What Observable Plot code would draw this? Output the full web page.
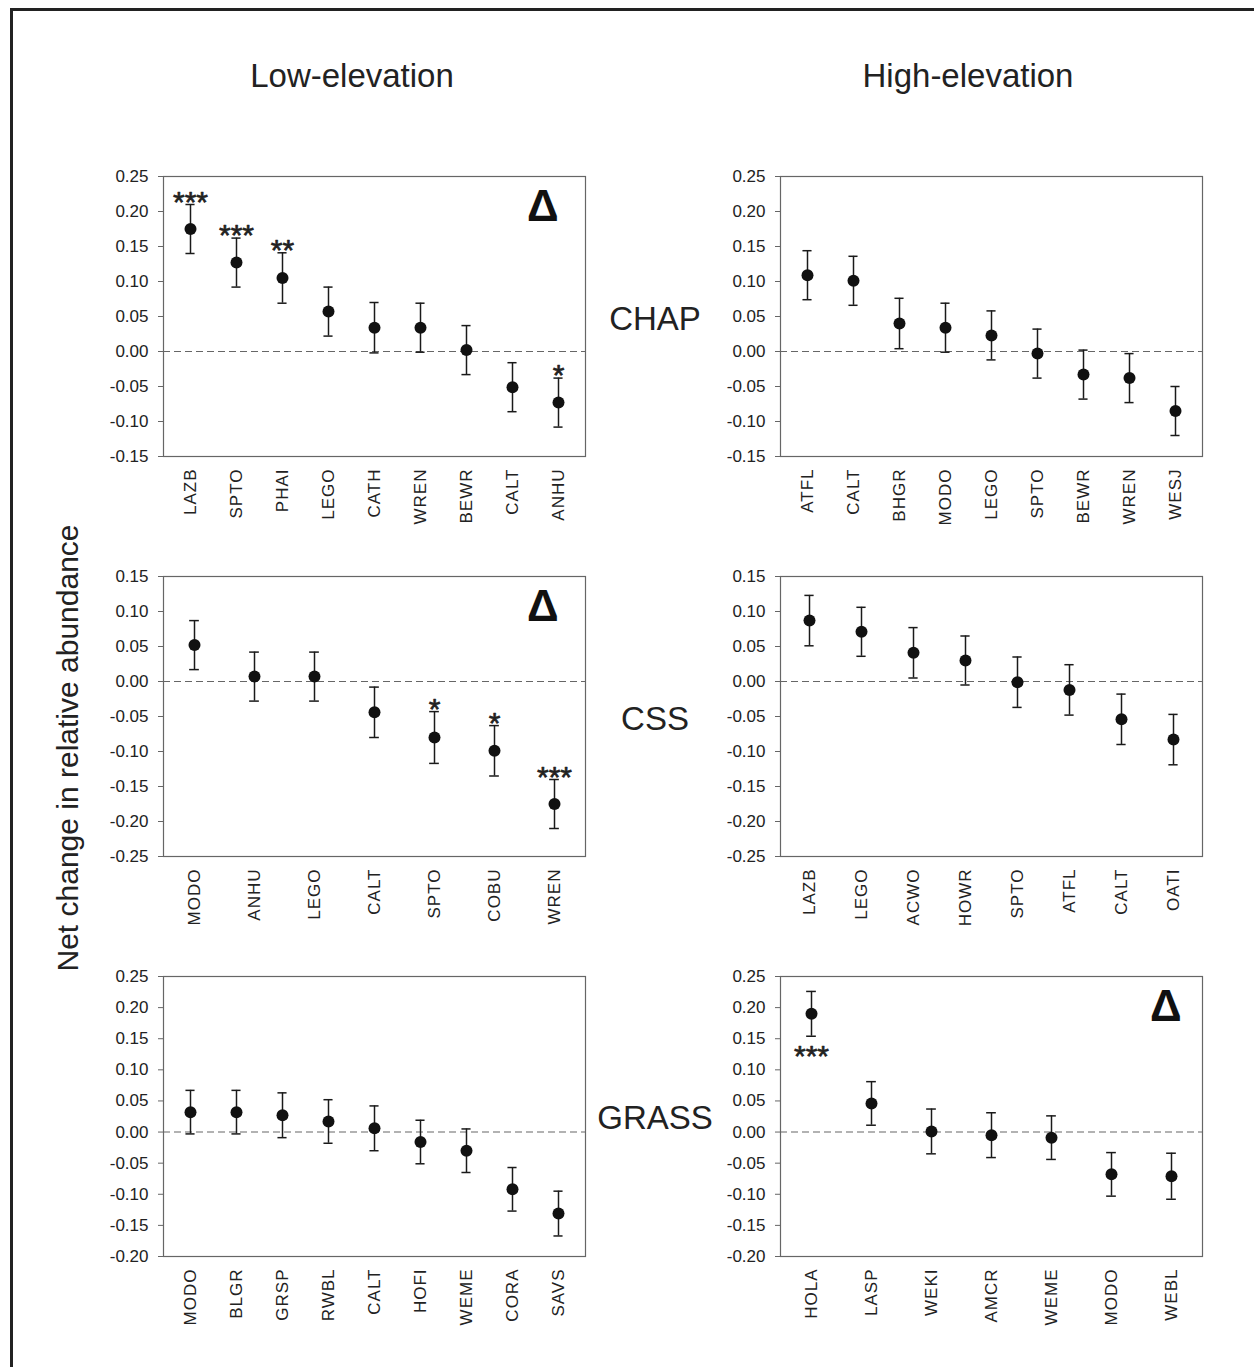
<!DOCTYPE html>
<html>
<head>
<meta charset="utf-8">
<script src="https://cdn.jsdelivr.net/npm/d3@7"></script>
<script src="https://cdn.jsdelivr.net/npm/@observablehq/plot@0.6"></script>
<style>
  html, body { margin: 0; padding: 0; background: #fff; overflow: hidden; }
  #page { position: relative; width: 1254px; height: 1367px; overflow: hidden; background: #fff;
          font-family: 'Liberation Sans', Arial, sans-serif; }
  #borderTop { position: absolute; left: 10px; top: 8px; width: 1244px; height: 2.5px; background: #222; }
  #borderLeft { position: absolute; left: 10px; top: 8px; width: 2.5px; height: 1359px; background: #222; }
  #page g[aria-label="x-axis tick label"] text { letter-spacing: 1px; }
</style>
</head>
<body>
<div id="page">
  <div id="borderTop"></div>
  <div id="borderLeft"></div>
</div>
<script>
// ---------- data ----------
const columnTitles = ["Low-elevation", "High-elevation"];
const rowTitles = ["CHAP", "CSS", "GRASS"];
const yAxisTitle = "Net change in relative abundance";

// CHAP
const chapYDomain = [-0.15, 0.25];
const chapLowSpecies = ["LAZB", "SPTO", "PHAI", "LEGO", "CATH", "WREN", "BEWR", "CALT", "ANHU"];
const chapLowMean    = [0.175, 0.127, 0.105, 0.057, 0.034, 0.034, 0.002, -0.051, -0.073];
const chapLowSE      = [0.035, 0.035, 0.036, 0.035, 0.036, 0.035, 0.035, 0.035, 0.035];
const chapLowSig     = ["***", "***", "**", "", "", "", "", "", "*"];

const chapHighSpecies = ["ATFL", "CALT", "BHGR", "MODO", "LEGO", "SPTO", "BEWR", "WREN", "WESJ"];
const chapHighMean    = [0.109, 0.101, 0.040, 0.034, 0.023, -0.003, -0.033, -0.038, -0.085];
const chapHighSE      = [0.035, 0.035, 0.036, 0.035, 0.035, 0.035, 0.035, 0.035, 0.035];

// CSS
const cssYDomain = [-0.25, 0.15];
const cssLowSpecies = ["MODO", "ANHU", "LEGO", "CALT", "SPTO", "COBU", "WREN"];
const cssLowMean    = [0.052, 0.007, 0.007, -0.044, -0.080, -0.099, -0.175];
const cssLowSE      = [0.035, 0.035, 0.035, 0.036, 0.037, 0.036, 0.035];
const cssLowSig     = ["", "", "", "", "*", "*", "***"];

const cssHighSpecies = ["LAZB", "LEGO", "ACWO", "HOWR", "SPTO", "ATFL", "CALT", "OATI"];
const cssHighMean    = [0.087, 0.071, 0.041, 0.030, -0.001, -0.012, -0.054, -0.083];
const cssHighSE      = [0.036, 0.035, 0.036, 0.035, 0.036, 0.036, 0.036, 0.036];

// GRASS
const grassYDomain = [-0.20, 0.25];
const grassLowSpecies = ["MODO", "BLGR", "GRSP", "RWBL", "CALT", "HOFI", "WEME", "CORA", "SAVS"];
const grassLowMean    = [0.032, 0.032, 0.027, 0.017, 0.006, -0.016, -0.030, -0.092, -0.131];
const grassLowSE      = [0.035, 0.035, 0.036, 0.035, 0.036, 0.035, 0.035, 0.035, 0.036];

const grassHighSpecies = ["HOLA", "LASP", "WEKI", "AMCR", "WEME", "MODO", "WEBL"];
const grassHighMean    = [0.190, 0.046, 0.001, -0.005, -0.009, -0.068, -0.071];
const grassHighSE      = [0.036, 0.035, 0.036, 0.036, 0.035, 0.035, 0.037];
const grassHighSig     = ["***", "", "", "", "", "", ""];

// ---------- drawing ----------
const FONT = "'Liberation Sans', Arial, sans-serif";
const INK = "#222";
const W = 492, H = 365, ML = 60, MR = 10, MT = 10, MB = 75;
const CAP = 10; // error-bar cap width in px

function panel({species, mean, se, sig, sigBelow, yDomain, delta, deltaDx}) {
  const data = species.map((s, i) => ({
    s, m: mean[i], lo: mean[i] - se[i], hi: mean[i] + se[i], sig: sig ? sig[i] : ""
  }));
  const ticks = d3.range(Math.round(yDomain[0] * 100), Math.round(yDomain[1] * 100) + 1, 5).map(v => v / 100);
  const bw = (W - ML - MR) / species.length;
  const inset = (bw - CAP) / 2;
  const marks = [
    Plot.ruleY([0], {stroke: "#666", strokeDasharray: "7,4", strokeWidth: 1.1}),
    Plot.frame({stroke: "#666", strokeWidth: 1.2}),
    Plot.axisY({ticks, tickFormat: d => (Math.abs(d) < 1e-9 ? 0 : d).toFixed(2), tickSize: 5, tickPadding: 10,
                stroke: "#666", fill: INK, fontSize: 17, label: null}),
    Plot.axisX({tickRotate: -90, tickSize: 0, tickPadding: 12, fill: INK, fontSize: 17, label: null}),
    Plot.ruleX(data, {x: "s", y1: "lo", y2: "hi", stroke: "#1a1a1a", strokeWidth: 1.5}),
    Plot.tickY(data, {x: "s", y: "hi", insetLeft: inset, insetRight: inset, stroke: "#1a1a1a", strokeWidth: 1.5}),
    Plot.tickY(data, {x: "s", y: "lo", insetLeft: inset, insetRight: inset, stroke: "#1a1a1a", strokeWidth: 1.5}),
    Plot.dot(data, {x: "s", y: "m", r: 6, fill: "#111", stroke: null}),
    Plot.text(data.filter(d => d.sig), {
      x: "s", y: sigBelow ? "lo" : "hi", text: "sig", fontSize: 30, fill: "#222",
      stroke: "#222", strokeWidth: 0.7,
      lineAnchor: "bottom", dy: sigBelow ? 30 : 7
    })
  ];
  if (delta) {
    marks.push(Plot.text(["Δ"], {
      frameAnchor: "top-right", text: d => d, textAnchor: "end", lineAnchor: "top",
      dx: deltaDx, dy: 13, fontSize: 44, fontWeight: "bold", fill: "#111"
    }));
  }
  return Plot.plot({
    width: W, height: H,
    marginLeft: ML, marginRight: MR, marginTop: MT, marginBottom: MB,
    style: {fontFamily: FONT, fontSize: "17px", color: INK, background: "transparent", overflow: "visible"},
    x: {type: "band", domain: species, padding: 0},
    y: {domain: yDomain},
    marks
  });
}

const panels = [
  {left: 103, top: 166, opts: {species: chapLowSpecies, mean: chapLowMean, se: chapLowSE, sig: chapLowSig, yDomain: chapYDomain, delta: true, deltaDx: -27}},
  {left: 720, top: 166, opts: {species: chapHighSpecies, mean: chapHighMean, se: chapHighSE, yDomain: chapYDomain}},
  {left: 103, top: 566, opts: {species: cssLowSpecies, mean: cssLowMean, se: cssLowSE, sig: cssLowSig, yDomain: cssYDomain, delta: true, deltaDx: -27}},
  {left: 720, top: 566, opts: {species: cssHighSpecies, mean: cssHighMean, se: cssHighSE, yDomain: cssYDomain}},
  {left: 103, top: 966, opts: {species: grassLowSpecies, mean: grassLowMean, se: grassLowSE, yDomain: grassYDomain}},
  {left: 720, top: 966, opts: {species: grassHighSpecies, mean: grassHighMean, se: grassHighSE, sig: grassHighSig, sigBelow: true, yDomain: grassYDomain, delta: true, deltaDx: -21}}
];

const page = document.getElementById("page");
for (const p of panels) {
  const el = panel(p.opts);
  el.style.position = "absolute";
  el.style.left = p.left + "px";
  el.style.top = p.top + "px";
  page.appendChild(el);
}

// Titles (plain text overlay)
const svg = d3.select(page).append("svg")
  .attr("width", 1254).attr("height", 1367)
  .style("position", "absolute").style("left", 0).style("top", 0)
  .style("font-family", FONT).style("pointer-events", "none");

svg.selectAll("text.col").data(columnTitles).join("text")
  .attr("class", "col")
  .attr("x", (d, i) => [352, 968][i]).attr("y", 87)
  .attr("text-anchor", "middle").attr("font-size", 33).attr("fill", INK)
  .text(d => d);

svg.selectAll("text.row").data(rowTitles).join("text")
  .attr("class", "row")
  .attr("x", 655).attr("y", (d, i) => [330, 730, 1129][i])
  .attr("text-anchor", "middle").attr("font-size", 33).attr("fill", INK)
  .text(d => d);

svg.append("text")
  .attr("transform", "translate(78,748) rotate(-90)")
  .attr("text-anchor", "middle").attr("font-size", 30).attr("fill", INK)
  .text(yAxisTitle);
</script>
</body>
</html>
